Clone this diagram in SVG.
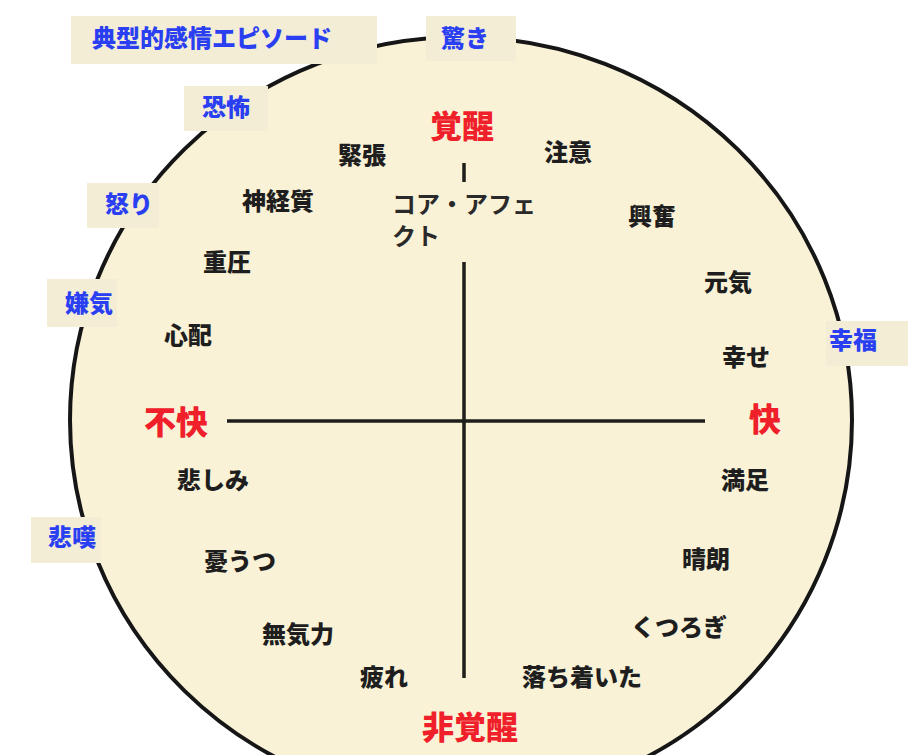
<svg xmlns="http://www.w3.org/2000/svg" width="924" height="755" viewBox="0 0 924 755">
<style>
text{font-family:"Noto Sans CJK JP","Noto Sans",sans-serif;}
.k{font-size:24px;font-weight:900;fill:#1e1e1e;text-anchor:middle;}
.b{font-size:24px;font-weight:900;fill:#2a3ff2;text-anchor:middle;}
.r{font-size:32px;font-weight:900;fill:#f0202a;text-anchor:middle;}
.c{font-size:24px;font-weight:700;fill:#2a2a2a;}
.box{fill:#f3edd6;}
.ax{stroke:#1e1e1a;stroke-width:3.5;fill:none;}
</style>
<rect width="924" height="755" fill="#ffffff"/>
<g id="circle">
<ellipse cx="461" cy="420" rx="391" ry="383" fill="#f9f2d6" stroke="#161616" stroke-width="4"/>
</g>
<g id="connectors">
<line class="ax" x1="227" y1="421" x2="705" y2="421"/>
<line class="ax" x1="464" y1="262" x2="464" y2="678"/>
<line class="ax" x1="464" y1="163" x2="464" y2="182"/>
</g>
<g id="ep-typical"><rect class="box" x="71" y="16" width="306" height="48"/><text class="b" x="212" y="47">典型的感情エピソード</text></g>
<g id="ep-surprise"><rect class="box" x="426" y="16" width="90" height="45"/><text class="b" x="465" y="47">驚き</text></g>
<g id="ep-fear"><rect class="box" x="184" y="86" width="84" height="45"/><text class="b" x="226" y="116">恐怖</text></g>
<g id="ep-anger"><rect class="box" x="87" y="183" width="72" height="45"/><text class="b" x="129" y="213">怒り</text></g>
<g id="ep-disgust"><rect class="box" x="47" y="279" width="70" height="48"/><text class="b" x="89" y="312">嫌気</text></g>
<g id="ep-happiness"><rect class="box" x="826" y="321" width="82" height="45"/><text class="b" x="853" y="349">幸福</text></g>
<g id="ep-grief"><rect class="box" x="31" y="517" width="70" height="46"/><text class="b" x="72" y="546">悲嘆</text></g>
<g id="ax-arousal"><text class="r" x="462" y="138">覚醒</text></g>
<g id="ax-unpleasant"><text class="r" x="176" y="434">不快</text></g>
<g id="ax-pleasant"><text class="r" x="765" y="431">快</text></g>
<g id="ax-deactivation"><text class="r" x="470" y="739">非覚醒</text></g>
<g id="core-affect"><text class="c" x="392" y="213">コア・アフェ</text><text class="c" x="392" y="245">クト</text></g>
<g id="w-tense"><text class="k" x="362" y="164">緊張</text></g>
<g id="w-alert"><text class="k" x="568" y="161">注意</text></g>
<g id="w-nervous"><text class="k" x="278" y="210">神経質</text></g>
<g id="w-excited"><text class="k" x="652" y="225">興奮</text></g>
<g id="w-stressed"><text class="k" x="227" y="271">重圧</text></g>
<g id="w-elated"><text class="k" x="728" y="291">元気</text></g>
<g id="w-worried"><text class="k" x="188" y="344">心配</text></g>
<g id="w-happy"><text class="k" x="746" y="366">幸せ</text></g>
<g id="w-sad"><text class="k" x="213" y="489">悲しみ</text></g>
<g id="w-contented"><text class="k" x="745" y="489">満足</text></g>
<g id="w-depressed"><text class="k" x="240" y="570">憂うつ</text></g>
<g id="w-serene"><text class="k" x="706" y="568">晴朗</text></g>
<g id="w-lethargic"><text class="k" x="298" y="643">無気力</text></g>
<g id="w-relaxed"><text class="k" x="679" y="636">くつろぎ</text></g>
<g id="w-fatigued"><text class="k" x="384" y="686">疲れ</text></g>
<g id="w-calm"><text class="k" x="582" y="686">落ち着いた</text></g>
</svg>
